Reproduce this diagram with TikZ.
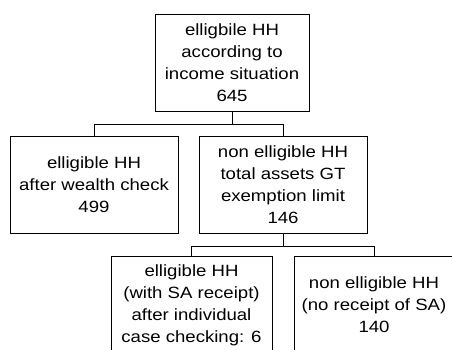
\documentclass[tikz,border=0pt]{standalone}
\usepackage{fontspec}
\setmainfont[FakeStretch=1.14]{Liberation Sans}
\tikzset{hhbox/.style={draw, line width=1pt, align=center, inner sep=0pt,
    font=\fontsize{16.3}{22}\selectfont},
  link/.style={line width=1pt}}

\begin{document}
\begin{tikzpicture}[x=1pt,y=-1pt]
  \useasboundingbox (0,0) rectangle (452,349);
  % first level
  \node[hhbox, minimum width=154pt, minimum height=97pt] (income) at (232,62.5)
    {elligbile HH\\according to\\income situation\\645};
  % second level
  \node[hhbox, minimum width=168pt, minimum height=97pt] (wealth) at (94,184.5)
    {elligible HH\\after wealth check\\499};
  \node[hhbox, minimum width=168pt, minimum height=97pt] (assets) at (283,184.5)
    {non elligible HH\\total assets GT\\exemption limit\\146};
  % third level
  \node[hhbox, minimum width=161pt, minimum height=97pt] (receipt) at (191.5,305)
    {elligible HH\\(with SA receipt)\\after individual\\case checking: 6};
  \node[hhbox, minimum width=160pt, minimum height=97pt] (noreceipt) at (374,305)
    {non elligible HH\\(no receipt of SA)\\140};
  \draw[link] (income.south) -- ++(0,12.5) -| (wealth.north);
  \draw[link] (income.south) -- ++(0,12.5) -| (assets.north);
  \draw[link] (assets.south) -- ++(0,12.5) -| (receipt.north);
  \draw[link] (assets.south) -- ++(0,12.5) -| (noreceipt.north);
\end{tikzpicture}
\end{document}
